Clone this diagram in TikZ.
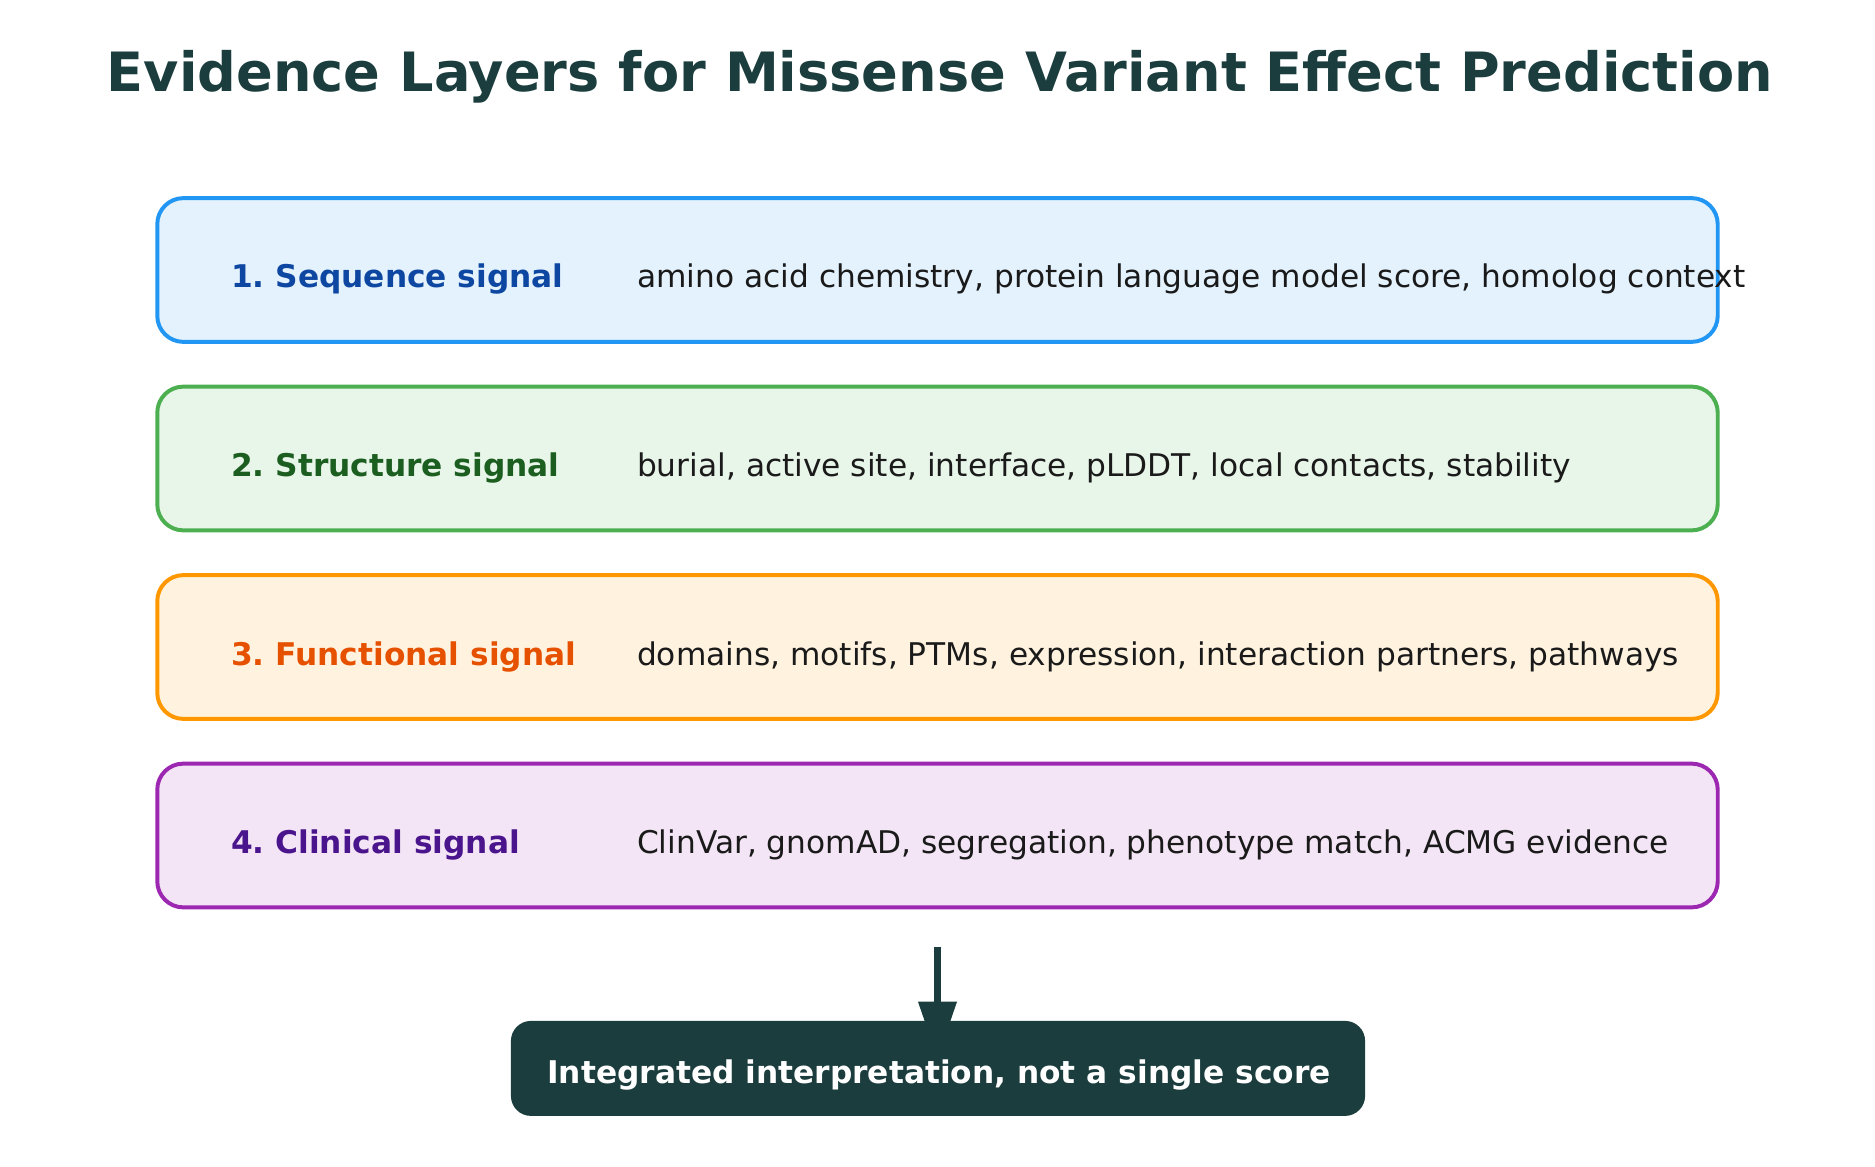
\documentclass[tikz,border=0pt]{standalone}
\usepackage{fontspec}
\setmainfont{DejaVu Sans}
\frenchspacing
\usetikzlibrary{positioning,arrows.meta,backgrounds}

\definecolor{inkdark}{HTML}{1B3D3D}
\definecolor{desctext}{HTML}{1A1A1A}
\definecolor{seqfill}{HTML}{E3F2FD}
\definecolor{seqline}{HTML}{2196F3}
\definecolor{seqhead}{HTML}{0D47A1}
\definecolor{strfill}{HTML}{E8F5E9}
\definecolor{strline}{HTML}{4CAF50}
\definecolor{strhead}{HTML}{1B5E20}
\definecolor{funfill}{HTML}{FFF3E0}
\definecolor{funline}{HTML}{FF9800}
\definecolor{funhead}{HTML}{E65100}
\definecolor{clifill}{HTML}{F3E5F5}
\definecolor{cliline}{HTML}{9C27B0}
\definecolor{clihead}{HTML}{4A148C}

\begin{document}
\begin{tikzpicture}[x=0.48pt, y=-0.48pt,
    layer/.style={rectangle, rounded corners=12.5pt, line width=1.9pt,
        minimum width=749pt, minimum height=69pt, inner sep=0pt},
    layerhead/.style={font=\bfseries\fontsize{15}{18}\selectfont,
        anchor=base west, inner sep=0pt},
    layerinfo/.style={font=\fontsize{15}{18}\selectfont, text=desctext,
        anchor=base west, inner sep=0pt}]

        % Page size
        \useasboundingbox (0, 0) rectangle (1875, 1167);

        % Title
        \node [font=\bfseries\fontsize{26}{30}\selectfont, text=inkdark,
            anchor=base, inner sep=0pt] (title) at (940, 92) {Evidence Layers
            for Missense Variant Effect Prediction};

        % The four evidence layers
        \node [layer, fill=seqfill, draw=seqline] (seq) at (937.5, 270) {};
        \node [layer, fill=strfill, draw=strline] (str) at (937.5, 458.5) {};
        \node [layer, fill=funfill, draw=funline] (fun) at (937.5, 647) {};
        \node [layer, fill=clifill, draw=cliline] (cli) at (937.5, 835.5) {};

        \node [layerhead, text=seqhead] (seqhd) at (230.7, 288)
            {1. Sequence signal};
        \node [layerhead, text=strhead] (strhd) at (230.7, 476.5)
            {2. Structure signal};
        \node [layerhead, text=funhead] (funhd) at (230.7, 665)
            {3. Functional signal};
        \node [layerhead, text=clihead] (clihd) at (230.7, 853.5)
            {4. Clinical signal};

        \node [layerinfo] (seqtx) at (636.7, 288)
            {amino acid chemistry, protein language model score, homolog context};
        \node [layerinfo] (strtx) at (636.7, 476.5)
            {burial, active site, interface, pLDDT, local contacts, stability};
        \node [layerinfo] (funtx) at (636.7, 665)
            {domains, motifs, PTMs, expression, interaction partners, pathways};
        \node [layerinfo] (clitx) at (636.7, 853.5)
            {ClinVar, gnomAD, segregation, phenotype match, ACMG evidence};

        % Result box
        \node [rectangle, rounded corners=9.6pt, fill=inkdark,
            minimum width=410pt, minimum height=45.6pt] (final)
            at (938, 1068.4) {};
        \node [font=\bfseries\fontsize{15}{18}\selectfont, text=white,
            anchor=base, inner sep=0pt] (finaltx) at (939, 1083)
            {Integrated interpretation, not a single score};

        % Arrow, partly hidden by the result box
        \coordinate (A1) at (937.5, 947);
        \begin{scope}[on background layer]
            \draw [inkdark, line width=3.2pt,
                -{Triangle[width=17.8pt, length=27.5pt]},
                shorten >=-18.5pt] (A1) -- (A1 |- final.north);
        \end{scope}

\end{tikzpicture}
\end{document}
